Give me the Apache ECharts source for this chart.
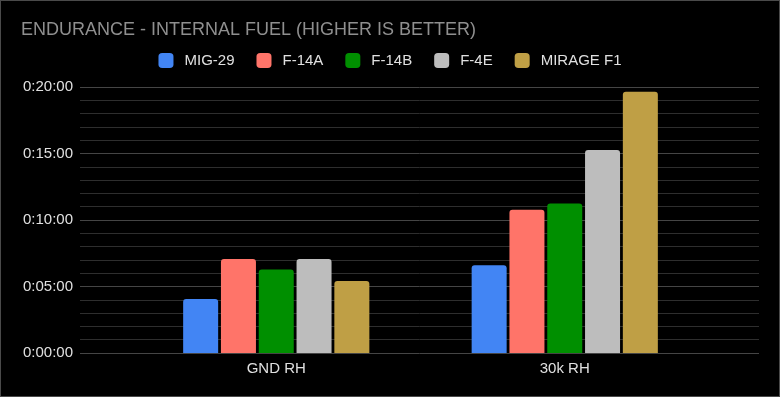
<!DOCTYPE html>
<html>
<head>
<meta charset="utf-8">
<script src="https://cdn.jsdelivr.net/npm/echarts@6/dist/echarts.min.js"></script>
<style>
  html, body { margin: 0; padding: 0; background: #000; }
  #chart { width: 780px; height: 397px; box-sizing: border-box; border: 1px solid #4a4a4a; }
</style>
</head>
<body>
<div id="chart"></div>
<script>
// endurance values in seconds
const categories = ['GND RH', '30k RH'];
const seriesNames = ['MIG-29', 'F-14A', 'F-14B', 'F-4E', 'MIRAGE F1'];
const mig29 = [244, 396];
const f14a = [424, 646];
const f14b = [377, 675];
const f4e = [424, 916];
const mirageF1 = [325, 1179];
const seriesValues = [mig29, f14a, f14b, f4e, mirageF1];
const colors = ['#4285f4', '#ff7469', '#008f00', '#bdbdbd', '#bf9f45'];

const fmt = function(v) {
  const h = Math.floor(v / 3600);
  const m = Math.floor((v % 3600) / 60);
  const s = Math.round(v % 60);
  return h + ':' + String(m).padStart(2, '0') + ':' + String(s).padStart(2, '0');
};

const font = 'Liberation Sans, Arial, sans-serif';
const chart = echarts.init(document.getElementById('chart'));

const option = {
  backgroundColor: '#000',
  animation: false,
  title: {
    text: 'ENDURANCE - INTERNAL FUEL (HIGHER IS BETTER)',
    left: 15, top: 15,
    textStyle: { color: '#8f8f8f', fontFamily: font, fontSize: 18, fontWeight: 'normal' }
  },
  legend: {
    top: 47, left: 'center',
    itemWidth: 15, itemHeight: 15, itemGap: 22,
    icon: 'roundRect',
    textStyle: { color: '#e0e0e0', fontFamily: font, fontSize: 15, padding: [0, 0, 0, 6] },
    data: seriesNames
  },
  grid: [
    { left: 79, right: 20, top: 86, bottom: 43 },
    { left: 131, right: 70, top: 86, bottom: 43 }
  ],
  xAxis: [
    { gridIndex: 0, type: 'value', show: false, min: 0, max: 1 },
    {
      gridIndex: 1, type: 'category', data: categories,
      axisLine: { show: false }, axisTick: { show: false },
      axisLabel: { color: '#e0e0e0', fontFamily: font, fontSize: 15, margin: 8 }
    }
  ],
  yAxis: [
    {
      gridIndex: 0, type: 'value', min: 0, max: 1200, interval: 300,
      axisLine: { show: false }, axisTick: { show: false },
      axisLabel: { color: '#e0e0e0', fontFamily: font, fontSize: 15, margin: 7, formatter: fmt },
      splitLine: { lineStyle: { color: '#454545', width: 1 } },
      minorTick: { show: false, splitNumber: 5 },
      minorSplitLine: { show: true, lineStyle: { color: '#2e2e2e', width: 1 } }
    },
    { gridIndex: 1, type: 'value', min: 0, max: 1200, show: false, splitLine: { show: false } }
  ],
  series: seriesNames.map(function(name, i) {
    return {
      name: name, type: 'bar',
      xAxisIndex: 1, yAxisIndex: 1,
      data: seriesValues[i],
      barWidth: 35, barGap: '8%',
      itemStyle: { color: colors[i], borderRadius: [3, 3, 0, 0] }
    };
  })
};

chart.setOption(option);
</script>
</body>
</html>
